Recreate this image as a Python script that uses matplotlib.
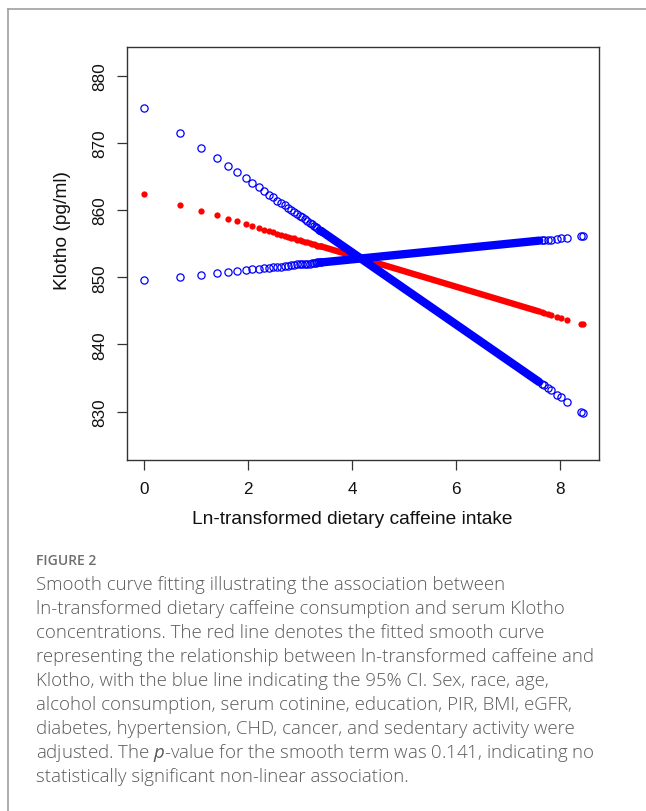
import numpy as np
import matplotlib
matplotlib.use("Agg")
import matplotlib.pyplot as plt
from matplotlib.lines import Line2D

plt.rcParams['font.family'] = ['Liberation Sans', 'DejaVu Sans']
plt.rcParams['mathtext.fontset'] = 'custom'
plt.rcParams['mathtext.rm'] = 'Open Sans'
plt.rcParams['mathtext.it'] = 'Open Sans:italic'

## data
# ln-transformed caffeine intake of the low-intake points (1..30 mg)
x_low = [0.00, 0.69, 1.10, 1.39, 1.61, 1.79, 1.95, 2.08, 2.20, 2.30,
         2.40, 2.48, 2.56, 2.64, 2.71, 2.77, 2.83, 2.89, 2.94, 3.00,
         3.04, 3.09, 3.14, 3.18, 3.22, 3.26, 3.30, 3.33, 3.37, 3.40]
fit_low = [862.4, 860.8, 859.9, 859.2, 858.7, 858.3, 857.9, 857.6, 857.3, 857.1,
           856.9, 856.7, 856.5, 856.3, 856.2, 856.0, 855.9, 855.8, 855.6, 855.5,
           855.4, 855.3, 855.2, 855.1, 855.0, 854.9, 854.8, 854.7, 854.7, 854.6]
ci1_low = [875.2, 871.5, 869.3, 867.8, 866.6, 865.6, 864.8, 864.0, 863.4, 862.8,
           862.3, 861.9, 861.4, 861.0, 860.7, 860.3, 860.0, 859.7, 859.4, 859.1,
           858.9, 858.6, 858.4, 858.1, 857.9, 857.7, 857.5, 857.3, 857.1, 856.9]
ci2_low = [849.6, 850.1, 850.4, 850.7, 850.8, 851.0, 851.1, 851.2, 851.3, 851.4,
           851.4, 851.5, 851.6, 851.6, 851.7, 851.7, 851.8, 851.8, 851.9, 851.9,
           851.9, 852.0, 852.0, 852.0, 852.1, 852.1, 852.1, 852.2, 852.2, 852.2]

# dense middle part (points overlap into a solid band)
x_mid = [3.40, 7.60]
fit_mid = [854.6, 844.9]
ci1_mid = [856.9, 834.4]
ci2_mid = [852.2, 855.45]

# high-intake points
x_high = [7.65, 7.70, 7.76, 7.83, 7.95, 8.01, 8.13, 8.41, 8.45]
fit_high = [844.8, 844.7, 844.6, 844.4, 844.1, 844.0, 843.7, 843.1, 843.0]
ci1_high = [834.1, 833.9, 833.5, 833.2, 832.5, 832.2, 831.5, 830.0, 829.8]
ci2_high = [855.5, 855.5, 855.6, 855.6, 855.7, 855.8, 855.9, 856.1, 856.1]

x_ticks = [0, 2, 4, 6, 8]
y_ticks = [830, 840, 850, 860, 870, 880]

caption = ["Smooth curve fitting illustrating the association between",
           "ln-transformed dietary caffeine consumption and serum Klotho",
           "concentrations. The red line denotes the fitted smooth curve",
           "representing the relationship between ln-transformed caffeine and",
           "Klotho, with the blue line indicating the 95% CI. Sex, race, age,",
           "alcohol consumption, serum cotinine, education, PIR, BMI, eGFR,",
           "diabetes, hypertension, CHD, cancer, and sedentary activity were",
           "adjusted. The $p$-value for the smooth term was 0.141, indicating no",
           "statistically significant non-linear association."]

fig = plt.figure(figsize=(6.46, 8.12), dpi=100)
ax = fig.add_axes([127/646, 1 - 461/812, 472/646, 413/812])

# red fitted curve
ax.plot(x_mid, fit_mid, color='red', lw=4.6, solid_capstyle='round', zorder=2)
ax.plot(x_low + x_high, fit_low + fit_high, 'o', color='red', ms=4.5, mew=0, zorder=2)

# blue confidence limits
for xs, ys in [(x_mid, ci1_mid), (x_mid, ci2_mid)]:
    ax.plot(xs, ys, color='blue', lw=6.0, solid_capstyle='round', zorder=3)
for ys in [ci1_low + ci1_high, ci2_low + ci2_high]:
    ax.plot(x_low + x_high, ys, 'o', mfc='none', mec='blue', ms=5.2, mew=0.9, zorder=3)

ax.set_xlim(-0.333, 8.75)
ax.set_ylim(822.8, 884.27)
ax.set_xticks(x_ticks)
ax.set_yticks(y_ticks)
ax.tick_params(axis='both', direction='out', length=7.2, width=0.9, color='#333333',
               labelsize=12.3, labelcolor='#111111')
ax.tick_params(axis='x', pad=8)
ax.tick_params(axis='y', pad=7)
for lab in ax.get_yticklabels():
    lab.set_rotation(90)
    lab.set_va('center')
for sp in ax.spines.values():
    sp.set_color('#333333')
    sp.set_linewidth(1.0)

ax.set_xlabel('Ln-transformed dietary caffeine intake', fontsize=13.8, color='#111111')
ax.set_ylabel('Klotho (pg/ml)', fontsize=13.8, color='#111111')
ax.xaxis.set_label_coords(0.477, -0.121)
ax.yaxis.set_label_coords(-0.118, 0.557)

# figure frame
fig.add_artist(Line2D([8/646, 1], [1 - 10/812, 1 - 10/812], color='#a0a0a0', lw=1.2))
fig.add_artist(Line2D([8/646, 8/646], [0, 1 - 10/812], color='#a0a0a0', lw=1.2))

# caption
fig.text(36/646, 1 - 561/812, 'FIGURE 2', fontsize=10, color='#6e6e6e',
         family=['Open Sans', 'DejaVu Sans'], weight='semibold', va='center')
for i, line in enumerate(caption):
    fig.text(36/646, 1 - (585 + 24*i)/812, line, fontsize=13.4, color='#5a5a5a',
             family=['Open Sans', 'DejaVu Sans'], weight='light', va='center')

fig.savefig('out.png', dpi=100)
